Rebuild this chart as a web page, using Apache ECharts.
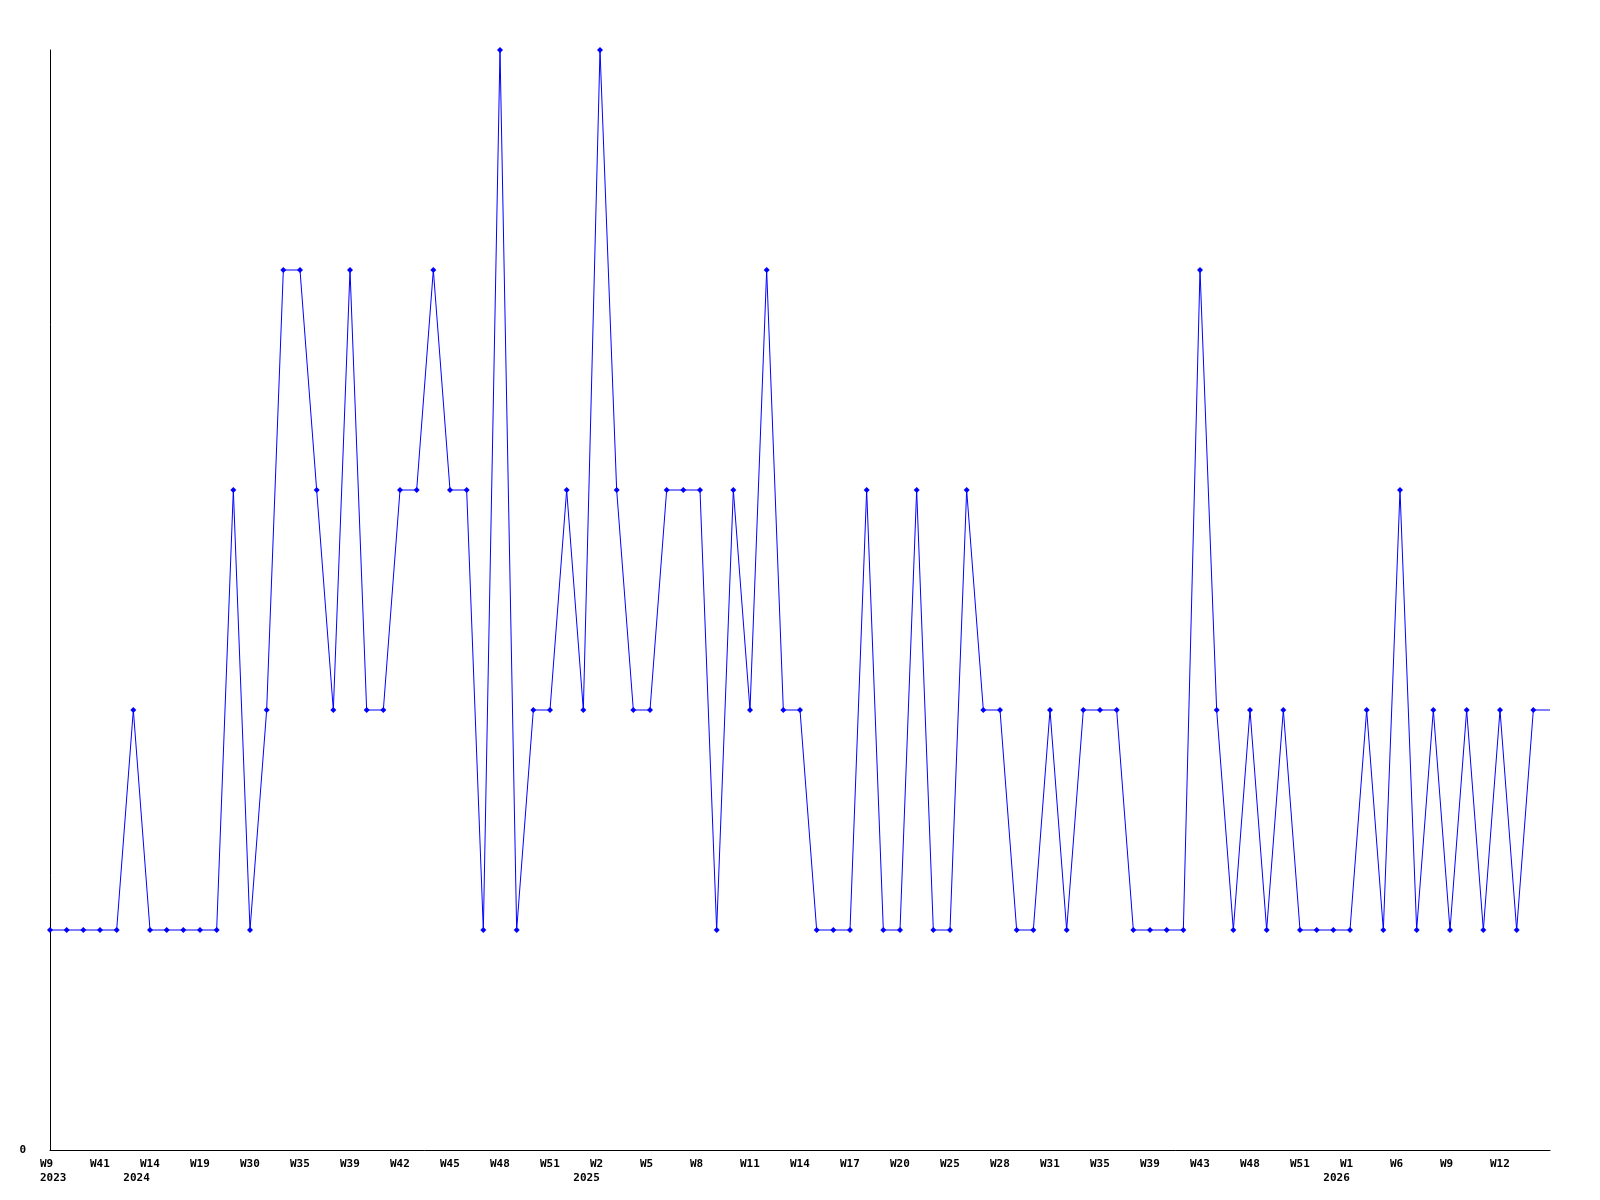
<!DOCTYPE html>
<html>
<head>
<meta charset="utf-8">
<script src="https://cdn.jsdelivr.net/npm/echarts@6/dist/echarts.min.js"></script>
<style>
html,body{margin:0;padding:0;background:#fff;}
#c{width:1600px;height:1200px;}
</style>
</head>
<body>
<div id="c"></div>
<script>
// Weekly values (one point per sampled week)
const values = [
  1,1,1,1,1,2,1,1,1,1,
  1,3,1,2,4,4,3,2,4,2,
  2,3,3,4,3,3,1,5,1,2,
  2,3,2,5,3,2,2,3,3,3,
  1,3,2,4,2,2,1,1,1,3,
  1,1,3,1,1,3,2,2,1,1,
  2,1,2,2,2,1,1,1,1,4,
  2,1,2,1,2,1,1,1,1,2,
  1,3,1,2,1,2,1,2,1,2
];
// Tick labels, one every 3 points
const tickLabels = ['W9','W41','W14','W19','W30','W35','W39','W42','W45','W48',
  'W51','W2','W5','W8','W11','W14','W17','W20','W25','W28',
  'W31','W35','W39','W43','W48','W51','W1','W6','W9','W12'];
// Year shown under a tick label (parallel to tickLabels)
const tickYears = ['2023','','2024','','','','','','','',
  '','2025','','','','','','','','',
  '','','','','','','2026','','',''];

const STEP = 3;
const FONT = {fontFamily: '"DejaVu Sans Mono", "Liberation Mono", monospace', fontSize: 11, fontWeight: 'bold', color: '#000'};
const CW = 6.67;

const data = values.map((v, i) => [i, v]);
data.push({value: [values.length, values[values.length - 1]], symbol: 'none'});

const chart = echarts.init(document.getElementById('c'), null, {renderer: 'canvas'});
chart.setOption({
  animation: false,
  backgroundColor: '#fff',
  grid: {left: 50, right: 50, top: 50, bottom: 50, containLabel: false},
  xAxis: [{
    type: 'value', min: 0, max: values.length, interval: STEP,
    axisLine: {show: true, lineStyle: {color: '#000', width: 1}},
    axisTick: {show: false}, splitLine: {show: false},
    axisLabel: {
      margin: 9, align: 'center',
      formatter: v => { const s = tickLabels[Math.round(v / STEP)]; return s ? '{w|' + s + '}' : ''; },
      rich: {w: Object.assign({width: CW * 3, align: 'left', lineHeight: 11}, FONT)}
    }
  }, {
    type: 'value', min: 0, max: values.length, interval: STEP, position: 'bottom',
    axisLine: {show: false}, axisTick: {show: false}, splitLine: {show: false},
    axisLabel: {
      margin: 23, align: 'center',
      formatter: v => {
        const j = Math.round(v / STEP); const y = tickYears[j];
        if (!y) return '';
        return (j === 0 ? '{f|' : '{y|') + y + '}';
      },
      rich: {
        y: Object.assign({width: CW * 8, align: 'left', lineHeight: 11}, FONT),
        f: Object.assign({width: CW * 3, align: 'left', lineHeight: 11}, FONT)
      }
    }
  }],
  yAxis: {
    type: 'value', min: 0, max: 5, interval: 1,
    axisLine: {show: true, lineStyle: {color: '#000', width: 1}},
    axisTick: {show: false}, splitLine: {show: false},
    axisLabel: Object.assign({margin: 24, formatter: v => v === 0 ? '0' : ''}, FONT)
  },
  series: [{
    type: 'line', data: data, xAxisIndex: 0,
    symbol: 'diamond', symbolSize: 6,
    lineStyle: {color: '#0000ff', width: 1},
    itemStyle: {color: '#0000ff'},
    emphasis: {disabled: true}
  }]
});
</script>
</body>
</html>
